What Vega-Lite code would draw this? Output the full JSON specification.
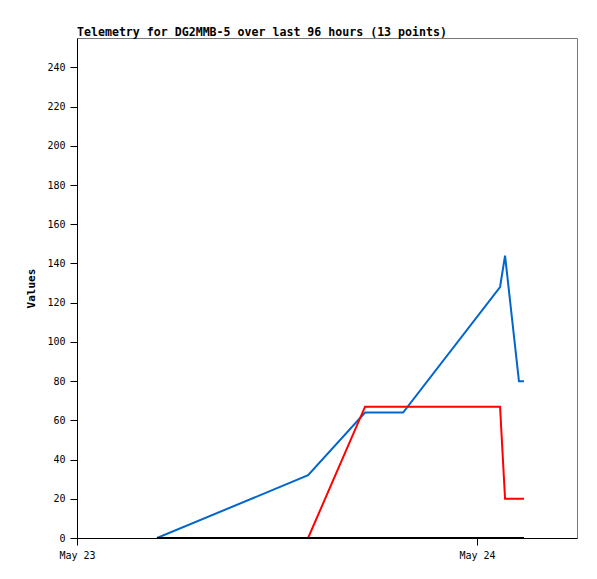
{
  "$schema": "https://vega.github.io/schema/vega-lite/v6.json",
  "width": 500,
  "height": 500,
  "autosize": "none",
  "padding": {"left": 77, "top": 38, "right": 20, "bottom": 41},
  "background": "white",
  "config": {
    "view": {"stroke": "#777777", "strokeWidth": 1},
    "font": "DejaVu Sans Mono"
  },
  "title": {
    "text": "Telemetry for DG2MMB-5 over last 96 hours (13 points)",
    "anchor": "start",
    "frame": "group",
    "font": "DejaVu Sans Mono",
    "fontSize": 11.6,
    "fontWeight": "bold",
    "color": "black",
    "offset": -1
  },
  "data": {
    "values": [
      {"t": "2024-05-23T04:48", "v": 0, "s": "blue"},
      {"t": "2024-05-23T13:52", "v": 32, "s": "blue"},
      {"t": "2024-05-23T17:17", "v": 64, "s": "blue"},
      {"t": "2024-05-23T19:34", "v": 64, "s": "blue"},
      {"t": "2024-05-24T01:23", "v": 128, "s": "blue"},
      {"t": "2024-05-24T01:41", "v": 144, "s": "blue"},
      {"t": "2024-05-24T02:31", "v": 80, "s": "blue"},
      {"t": "2024-05-24T02:49", "v": 80, "s": "blue"},
      {"t": "2024-05-23T04:48", "v": 0, "s": "red"},
      {"t": "2024-05-23T13:52", "v": 0, "s": "red"},
      {"t": "2024-05-23T17:17", "v": 67, "s": "red"},
      {"t": "2024-05-23T19:34", "v": 67, "s": "red"},
      {"t": "2024-05-24T01:23", "v": 67, "s": "red"},
      {"t": "2024-05-24T01:41", "v": 20, "s": "red"},
      {"t": "2024-05-24T02:31", "v": 20, "s": "red"},
      {"t": "2024-05-24T02:49", "v": 20, "s": "red"},
      {"t": "2024-05-23T04:48", "v": 0, "s": "black"},
      {"t": "2024-05-23T13:52", "v": 0, "s": "black"},
      {"t": "2024-05-23T17:17", "v": 0, "s": "black"},
      {"t": "2024-05-23T19:34", "v": 0, "s": "black"},
      {"t": "2024-05-24T01:23", "v": 0, "s": "black"},
      {"t": "2024-05-24T01:41", "v": 0, "s": "black"},
      {"t": "2024-05-24T02:31", "v": 0, "s": "black"},
      {"t": "2024-05-24T02:49", "v": 0, "s": "black"}
    ]
  },
  "mark": {"type": "line", "strokeWidth": 2, "interpolate": "linear", "clip": true},
  "encoding": {
    "x": {
      "field": "t",
      "type": "temporal",
      "scale": {"domain": [{"year": 2024, "month": 5, "date": 23}, {"year": 2024, "month": 5, "date": 24, "hours": 6}]},
      "axis": {
        "title": null,
        "values": [{"year": 2024, "month": 5, "date": 23}, {"year": 2024, "month": 5, "date": 24}],
        "format": "%b %d",
        "grid": false,
        "domainColor": "black",
        "tickColor": "black",
        "tickSize": 7,
        "labelColor": "black",
        "labelFont": "DejaVu Sans Mono",
        "labelFontSize": 10,
        "labelPadding": 5,
        "labelFlush": false
      }
    },
    "y": {
      "field": "v",
      "type": "quantitative",
      "scale": {"domain": [0, 255], "nice": false},
      "axis": {
        "title": "Values",
        "values": [0, 20, 40, 60, 80, 100, 120, 140, 160, 180, 200, 220, 240],
        "grid": false,
        "domainColor": "black",
        "tickColor": "black",
        "tickSize": 7,
        "labelColor": "black",
        "labelFont": "DejaVu Sans Mono",
        "labelFontSize": 10,
        "labelPadding": 5,
        "titleFont": "DejaVu Sans Mono",
        "titleFontSize": 11,
        "titleFontWeight": "bold",
        "titleColor": "black",
        "titlePadding": 10
      }
    },
    "color": {
      "field": "s",
      "type": "nominal",
      "scale": {"domain": ["blue", "red", "black"], "range": ["#0066cc", "#ff0000", "#000000"]},
      "legend": null
    }
  }
}
